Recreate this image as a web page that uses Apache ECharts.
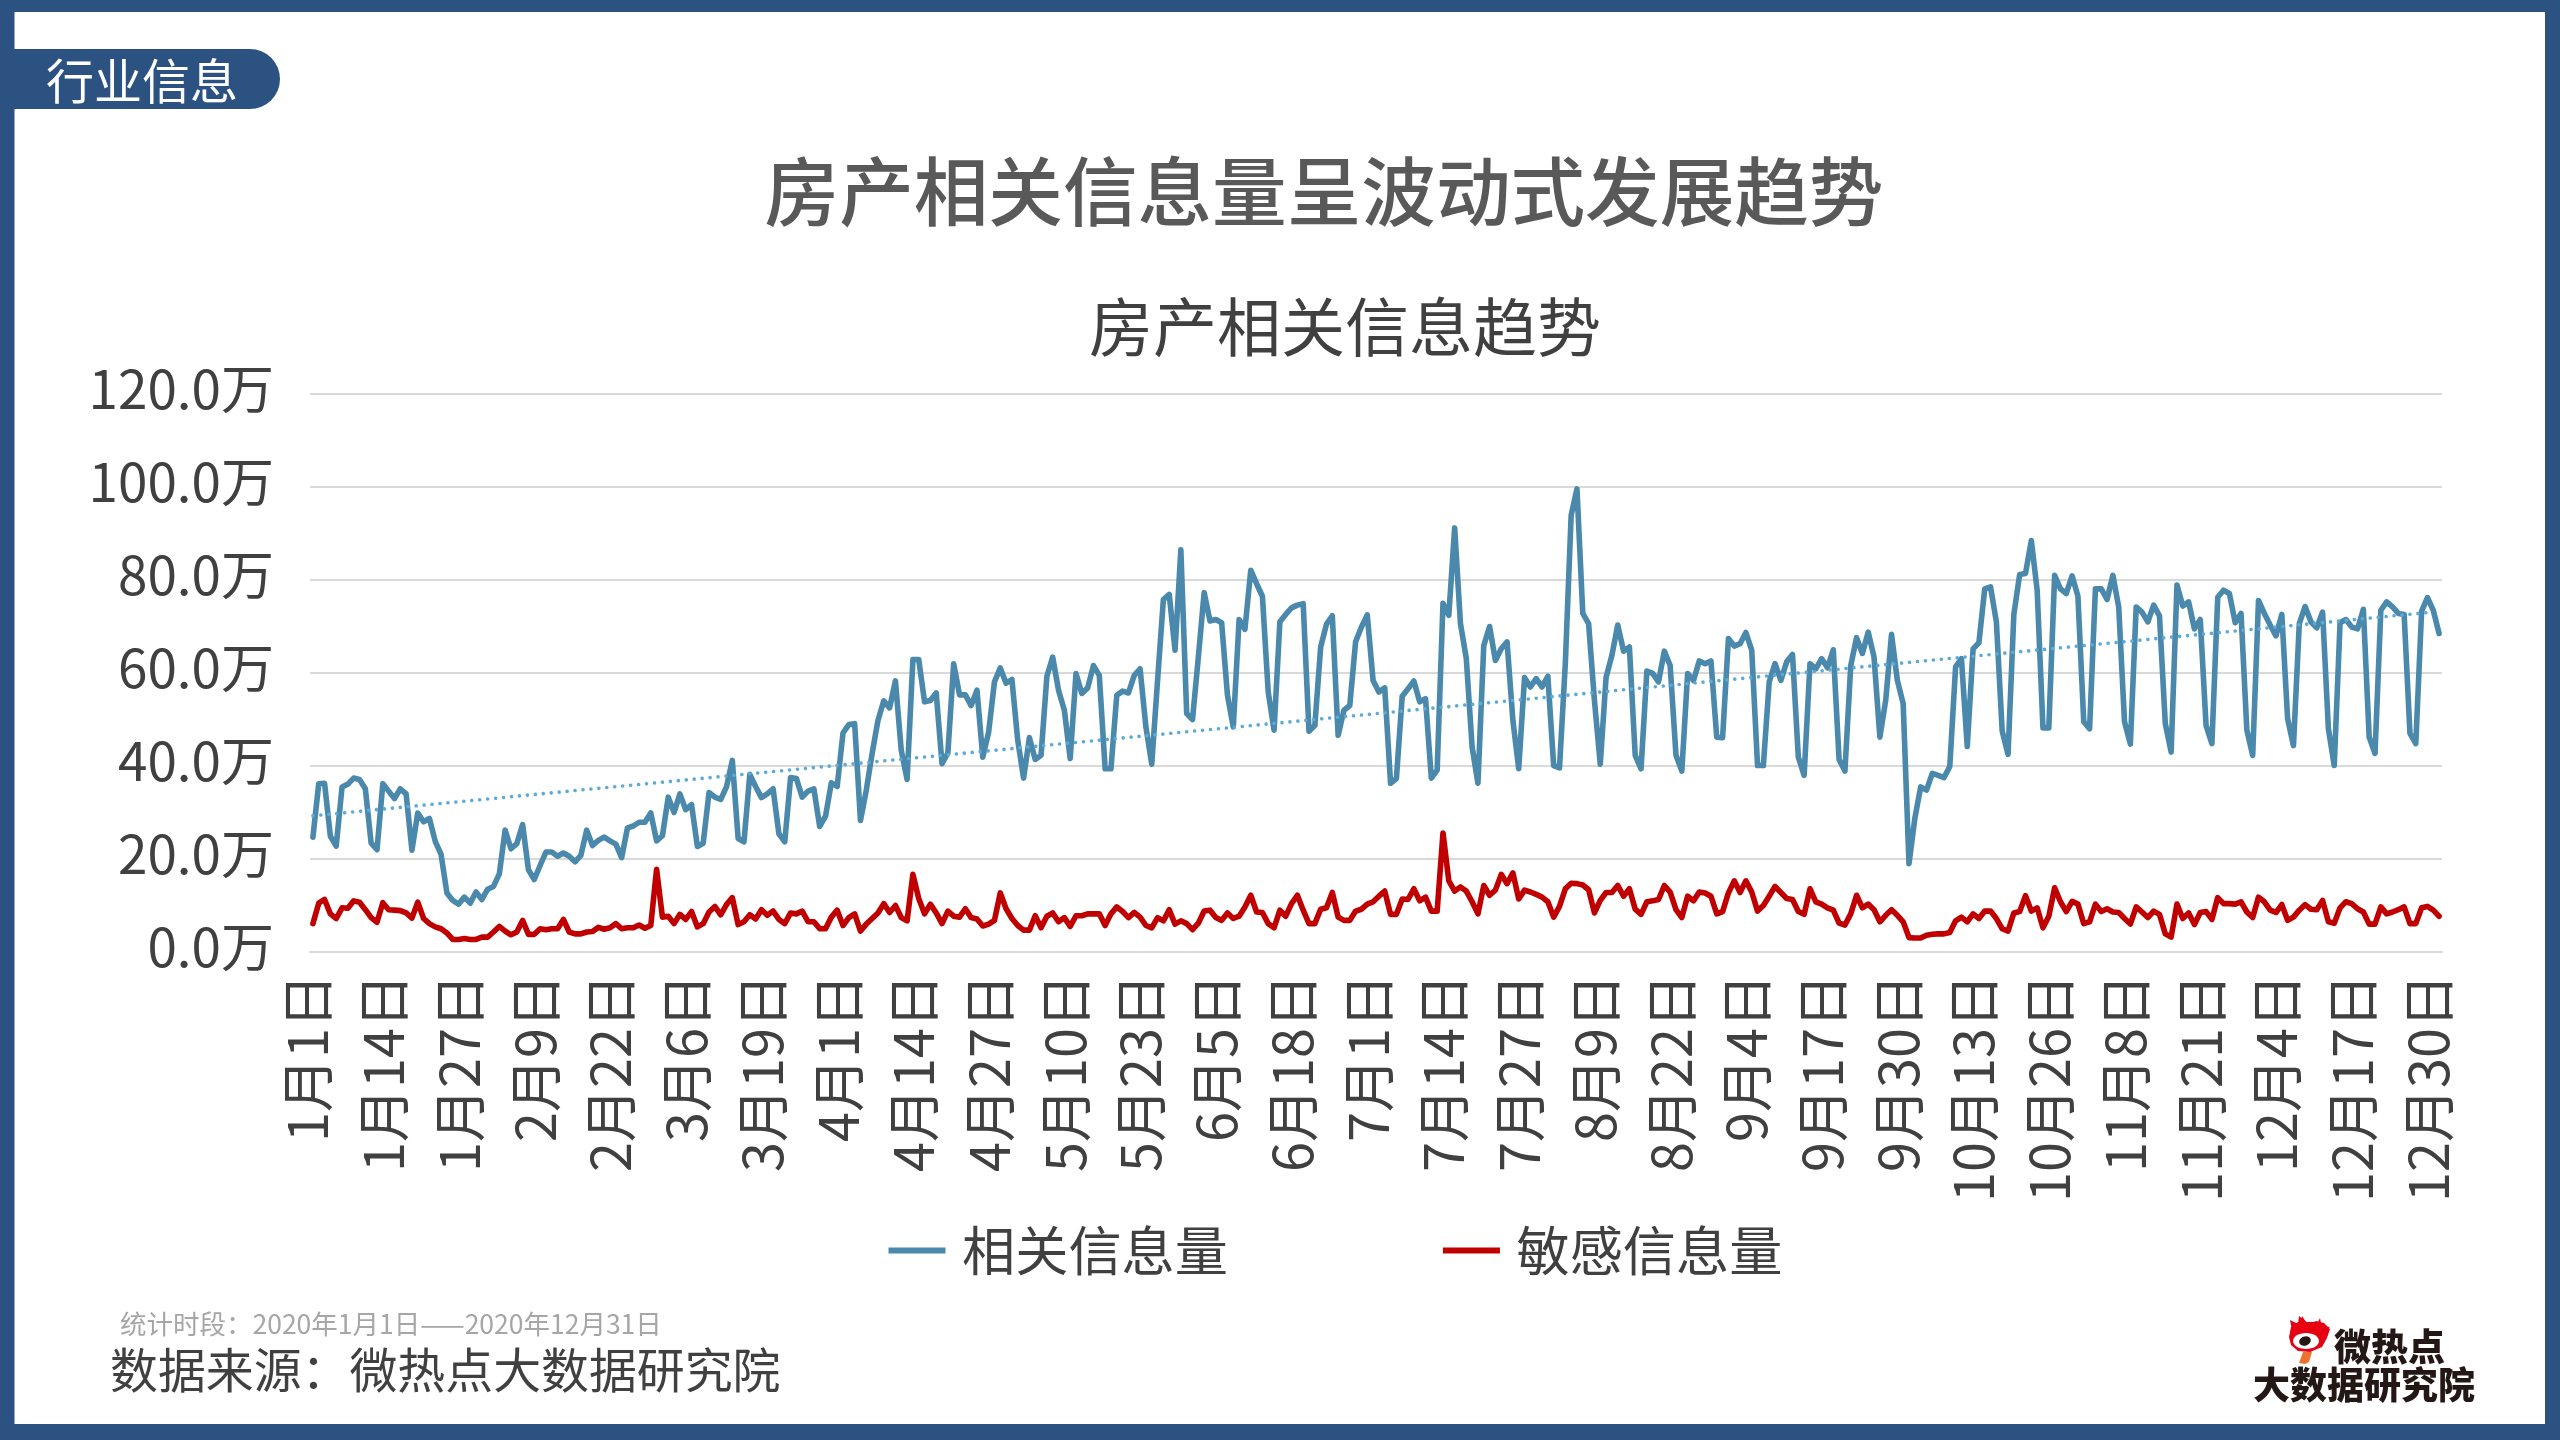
<!DOCTYPE html>
<html>
<head>
<meta charset="utf-8">
<style>html,body{margin:0;padding:0;background:#fff}#c{width:2560px;height:1440px}</style>
<script src="https://cdn.jsdelivr.net/npm/echarts@6/dist/echarts.min.js"></script>
</head>
<body>
<div id="c"></div>
<script>
const monthLengths = [31,29,31,30,31,30,31,31,30,31,30,31];
const categories = [];
monthLengths.forEach((n, m) => { for (let d = 1; d <= n; d++) categories.push((m + 1) + '月' + d + '日'); });

const relatedValues = [
24.7,36.2,36.3,24.9,22.8,35.5,36.1,37.4,37.1,35.1,23.4,22.0,36.2,34.6,33.0,35.1,34.0,21.9,29.9,28.0,
28.7,23.8,21.0,12.7,11.1,10.3,11.8,10.5,12.9,11.3,13.5,14.1,16.8,26.2,22.2,23.3,27.4,17.7,15.6,18.6,
21.5,21.5,20.6,21.3,20.6,19.4,20.8,26.2,22.9,24.0,24.7,23.9,23.2,20.3,26.7,27.1,27.9,27.9,29.9,23.9,
25.0,33.3,30.0,34.0,30.6,31.7,22.7,23.4,34.3,33.3,32.8,35.5,41.2,24.4,23.7,38.2,35.6,33.2,34.0,35.1,
25.4,23.7,37.5,37.3,33.3,34.6,35.1,27.0,29.2,36.4,35.6,47.1,48.9,49.1,28.3,34.8,42.7,49.8,54.0,52.5,
58.3,43.4,37.1,62.9,62.9,53.8,54.1,55.7,40.5,42.8,62.0,55.3,55.3,53.0,56.3,41.9,47.3,58.1,61.1,57.8,
58.6,45.5,37.4,46.1,41.4,42.3,59.3,63.4,56.3,52.0,41.6,59.9,55.6,56.8,61.6,59.5,39.4,39.4,55.2,56.1,
55.7,59.5,60.9,48.4,40.4,58.4,75.8,76.9,64.9,86.5,51.3,50.0,63.4,77.3,71.2,71.5,70.8,55.2,48.4,71.5,
69.4,82.1,79.2,76.5,55.9,47.7,71.0,72.6,74.0,74.6,74.9,47.5,48.7,65.6,70.5,72.3,46.6,52.0,53.0,66.7,
69.9,72.5,58.4,55.9,56.8,36.3,37.3,55.0,56.6,58.3,53.8,54.5,37.4,39.1,75.0,72.4,91.2,70.6,63.1,44.1,
36.3,65.9,70.0,62.7,65.2,66.7,49.8,39.4,59.0,57.0,58.8,57.0,59.3,40.1,39.6,62.0,93.9,99.6,72.8,70.6,
54.1,40.4,59.1,63.8,70.3,64.7,65.6,42.3,39.4,60.4,59.9,58.1,64.7,61.6,42.3,38.9,59.9,58.4,62.6,62.0,
62.6,46.2,46.1,67.4,65.8,66.3,68.7,64.9,40.1,40.1,58.1,62.0,58.4,62.4,64.0,41.9,38.0,62.0,60.9,63.1,
61.1,65.0,41.4,38.9,61.6,67.6,64.2,68.8,63.4,46.2,54.1,68.3,58.4,53.4,19.0,28.7,35.5,34.8,38.4,38.0,
37.5,39.9,61.3,63.1,44.2,65.2,66.5,78.1,78.5,71.0,47.5,42.5,72.6,81.2,81.4,88.5,77.8,48.2,48.2,81.0,
78.1,77.1,80.9,76.5,49.5,48.0,78.1,78.1,75.8,81.0,74.2,49.5,44.7,74.2,73.1,71.0,74.6,72.3,49.1,43.0,
78.9,74.4,75.3,69.5,71.5,48.7,44.8,76.3,77.8,77.1,70.8,72.8,47.7,42.3,75.6,72.8,70.3,68.0,72.6,50.2,
44.4,70.6,74.3,71.0,69.7,73.1,48.0,40.1,70.8,71.5,69.9,69.5,73.7,46.2,42.7,73.5,75.3,74.2,72.8,72.6,
47.0,44.8,73.3,76.2,73.5,68.5];

const sensitiveValues = [
6.1,10.5,11.3,8.2,7.2,9.5,9.4,11.0,10.7,9.1,7.4,6.4,10.6,9.1,9.0,8.9,8.4,7.3,10.7,7.2,
6.1,5.4,5.0,4.1,2.7,2.7,2.9,2.7,2.7,3.2,3.2,4.3,5.5,4.5,3.7,4.3,6.8,3.8,3.8,5.0,
4.8,5.0,5.0,7.0,4.3,3.9,3.9,4.3,4.4,5.3,4.9,5.2,6.1,5.0,5.2,5.2,5.8,5.1,5.7,17.8,
7.5,7.7,6.1,8.1,7.0,8.7,5.4,6.1,8.6,9.8,8.0,10.2,11.7,5.9,6.5,8.0,7.1,9.1,7.9,8.8,
7.0,6.1,8.4,8.2,8.8,6.5,6.5,5.0,5.0,7.5,9.0,5.7,7.4,8.2,4.5,6.0,7.2,8.4,10.4,8.5,
10.0,7.4,6.7,16.7,11.5,8.2,10.3,8.4,6.1,8.8,7.7,7.5,9.3,7.4,7.1,5.6,6.0,6.8,12.7,9.3,
7.2,5.7,4.7,4.7,7.8,5.2,7.7,8.4,6.5,7.4,5.5,7.8,7.8,8.2,8.2,8.2,5.7,8.2,9.7,8.7,
7.4,8.5,7.5,5.7,5.2,7.4,6.7,9.1,6.0,6.7,6.1,4.8,6.2,8.8,9.0,7.4,6.8,8.4,7.2,7.7,
9.7,12.2,8.6,8.5,6.1,5.2,9.0,7.7,10.4,12.2,9.0,6.1,6.1,9.2,9.5,12.8,7.5,6.8,6.8,8.8,
9.2,10.3,10.8,12.0,13.1,8.1,8.1,11.4,11.3,13.6,11.0,11.8,8.8,8.8,25.6,15.3,13.1,14.0,13.1,10.8,
8.2,14.3,12.2,13.3,16.7,14.7,17.0,11.4,13.3,12.9,12.4,11.8,10.8,7.5,9.8,13.6,14.8,14.7,14.4,13.4,
8.4,11.1,12.8,12.8,14.3,12.0,13.6,9.2,8.1,10.8,11.0,11.3,14.3,12.9,9.1,7.4,12.0,11.0,12.9,12.7,
12.0,8.2,8.7,12.7,15.3,12.8,15.3,12.9,8.8,10.0,12.0,14.1,12.8,11.5,11.3,8.7,8.1,13.6,10.8,10.3,
9.5,9.0,6.2,5.8,8.2,12.2,9.5,10.3,9.1,6.5,7.9,9.1,7.9,6.5,3.1,3.0,3.0,3.6,3.8,3.9,
3.9,4.2,6.7,7.5,6.5,8.2,7.2,8.8,8.8,7.2,5.0,4.5,8.4,8.7,12.1,8.8,9.5,5.2,7.7,13.8,
10.8,8.7,10.9,10.3,6.1,6.5,10.3,8.7,9.3,8.6,8.5,7.2,6.0,9.7,8.6,7.4,8.8,8.1,3.9,3.2,
10.3,7.2,8.4,5.9,8.5,8.7,7.0,11.7,10.4,10.4,10.3,10.8,8.6,7.4,11.8,10.8,9.0,8.5,10.2,6.8,
7.5,9.0,10.2,9.2,9.1,11.1,6.5,6.2,9.5,10.8,10.4,9.3,8.6,6.0,6.0,9.7,8.2,8.6,9.1,9.7,
6.1,6.1,9.5,9.8,9.0,7.7];

const trendEnds = [[0, 29.3], [363, 73.0]];
const yTicks = {min: 0, max: 120, interval: 20};
const FRAME = '#2C5282', CJK = '"Noto Sans CJK SC","Noto Sans",sans-serif';

const chart = echarts.init(document.getElementById('c'), null, {renderer: 'canvas', width: 2560, height: 1440});
chart.setOption({
  animation: false,
  backgroundColor: '#fff',
  textStyle: {fontFamily: CJK},
  title: [
    {text: '房产相关信息量呈波动式发展趋势', left: 1319, top: 140, textAlign: 'center',
      textStyle: {fontFamily: CJK, fontSize: 74.6, fontWeight: 500, color: '#595959', lineHeight: 94}},
    {text: '房产相关信息趋势', left: 1340, top: 281, textAlign: 'center',
      textStyle: {fontFamily: CJK, fontSize: 64, fontWeight: 400, color: '#404040', lineHeight: 82}}
  ],
  legend: {
    left: 883.5, top: 1219, itemWidth: 57, itemHeight: 6, itemGap: 215,
    icon: 'rect',
    data: ['相关信息量', '敏感信息量'],
    textStyle: {fontFamily: CJK, fontSize: 53.2, color: '#404040', padding: [0, 0, 0, 11.5]}
  },
  grid: {left: 310, right: 118, top: 394, bottom: 488, containLabel: false},
  xAxis: {
    type: 'category', data: categories, boundaryGap: true,
    axisTick: {show: false},
    axisLine: {show: true, lineStyle: {color: '#D9D9D9', width: 2}},
    axisLabel: {interval: 12, rotate: 90, margin: 22, fontSize: 54, color: '#404040', fontFamily: CJK,
      verticalAlign: 'bottom', lineHeight: 10}
  },
  yAxis: {
    type: 'value', min: yTicks.min, max: yTicks.max, interval: yTicks.interval,
    axisLine: {show: false}, axisTick: {show: false},
    splitLine: {lineStyle: {color: '#D9D9D9', width: 2}},
    axisLabel: {margin: 36, fontSize: 53, color: '#404040', fontFamily: CJK,
      verticalAlign: 'bottom', lineHeight: 10,
      formatter: v => v.toFixed(1) + '万'}
  },
  series: [
    {name: '相关信息量', type: 'line', data: relatedValues, symbol: 'none', z: 3,
      itemStyle: {color: '#4A89AC'},
      lineStyle: {color: '#4A89AC', width: 5.6, join: 'round', cap: 'round'}},
    {name: '敏感信息量', type: 'line', data: sensitiveValues, symbol: 'none', z: 4,
      itemStyle: {color: '#C00000'},
      lineStyle: {color: '#C00000', width: 5.6, join: 'round', cap: 'round'}},
    {name: '趋势', type: 'line', data: trendEnds, symbol: 'none', z: 5,
      itemStyle: {color: '#5BAAD8'},
      lineStyle: {color: '#5BAAD8', width: 3.6, type: [0.01, 7.97], cap: 'round'}}
  ],
  graphic: [
    {type: 'rect', shape: {x: 0, y: 0, width: 2560, height: 12}, style: {fill: FRAME}},
    {type: 'rect', shape: {x: 0, y: 1424, width: 2560, height: 16}, style: {fill: FRAME}},
    {type: 'rect', shape: {x: 0, y: 0, width: 14.5, height: 1440}, style: {fill: FRAME}},
    {type: 'rect', shape: {x: 2545, y: 0, width: 15, height: 1440}, style: {fill: FRAME}},
    {type: 'rect', shape: {x: 0, y: 49, width: 280, height: 60, r: [0, 30, 30, 0]}, style: {fill: FRAME}},
    {type: 'text', x: 46, y: 81, style: {text: '行业信息', fill: '#fff', font: '48px ' + CJK, textVerticalAlign: 'middle', textAlign: 'left'}},
    {type: 'text', x: 120, y: 1324, style: {text: '统计时段：2020年1月1日——2020年12月31日', fill: '#A6A6A6', font: '26.5px ' + CJK, textVerticalAlign: 'middle', textAlign: 'left'}},
    {type: 'text', x: 110, y: 1370, style: {text: '数据来源：微热点大数据研究院', fill: '#404040', font: '47.9px ' + CJK, textVerticalAlign: 'middle', textAlign: 'left'}},
    {type: 'polygon', shape: {points: [[2289,1337],[2291,1327],[2298,1322],[2302,1322],[2306,1322],[2311,1323],[2316,1321],[2324,1323],[2330,1329],[2327,1338],[2322,1347],[2310,1352],[2298,1351],[2291,1345]]}, style: {fill: '#E60012'}},
    {type: 'polygon', shape: {points: [[2292,1330],[2290,1320],[2298,1324],[2299,1316],[2306,1322],[2311,1322],[2310,1322],[2312,1322],[2316,1322],[2320,1326],[2330,1327],[2324,1332]]}, style: {fill: '#E60012'}},
    {type: 'polygon', shape: {points: [[2300,1325],[2302,1316],[2306,1322],[2310,1322],[2311,1322],[2318,1322],[2320,1318],[2322,1328]]}, style: {fill: '#E60012'}},
    {type: 'polygon', shape: {points: [[2303,1352],[2306,1352],[2312,1352],[2309,1362],[2305,1364],[2299,1363]]}, style: {fill: '#F07030'}},
    {type: 'ellipse', shape: {cx: 2306, cy: 1341, rx: 13, ry: 8}, style: {fill: '#fff'}},
    {type: 'ellipse', shape: {cx: 2305, cy: 1341, rx: 6, ry: 4.5}, rotation: 0.4, originX: 2305, originY: 1341, style: {fill: '#231815'}},
    {type: 'text', x: 2334, y: 1347, style: {text: '微热点', fill: '#231815', font: '900 37px ' + CJK, textVerticalAlign: 'middle', textAlign: 'left'}},
    {type: 'text', x: 2253, y: 1385, style: {text: '大数据研究院', fill: '#231815', font: '900 37px ' + CJK, textVerticalAlign: 'middle', textAlign: 'left'}}
  ]
});
</script>
</body>
</html>
